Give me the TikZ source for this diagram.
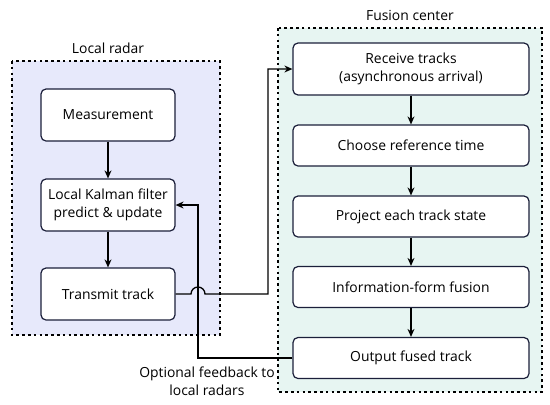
\documentclass[tikz,border=0pt]{standalone}
\usepackage{fontspec}
\setmainfont{Open Sans}
\usetikzlibrary{arrows.meta}
\definecolor{lrfill}{HTML}{E7E9FB}
\definecolor{fcfill}{HTML}{E7F5F2}
\definecolor{boxline}{HTML}{1B1F3A}
\begin{document}
\begin{tikzpicture}[x=1pt,y=-1pt,
  panel/.style={draw=black,line width=1.1pt,dash pattern=on 2.6pt off 3.2pt},
  stepbox/.style={draw=boxline,fill=white,line width=1.2pt,rounded corners=5pt,align=center,font=\fontsize{13.9}{17.5}\selectfont,inner sep=0pt},
  conn/.style={draw=black,line width=1.3pt,-{Stealth[length=8pt,width=7pt]}},
  lbl/.style={font=\fontsize{13.9}{17.5}\selectfont,align=center}]
\useasboundingbox (0,0) rectangle (550,405);
% panels
\path[panel,fill=lrfill] (12,61) rectangle (220,335);
\path[panel,fill=fcfill] (278,28) rectangle (542,392);
\node[lbl] (lrlab) at (108,48) {Local radar};
\node[lbl] (fclab) at (410,15) {Fusion center};
% local boxes
\node[stepbox,minimum width=134pt,minimum height=52pt] (meas) at (108,115) {Measurement};
\node[stepbox,minimum width=134pt,minimum height=52pt] (kal) at (108,205) {Local Kalman filter\\predict \& update};
\node[stepbox,minimum width=134pt,minimum height=52pt] (trans) at (108,294) {Transmit track};
% fusion boxes
\node[stepbox,minimum width=236pt,minimum height=52pt] (recv) at (411,69) {Receive tracks\\(asynchronous arrival)};
\node[stepbox,minimum width=236pt,minimum height=41pt] (choose) at (411,145.5) {Choose reference time};
\node[stepbox,minimum width=236pt,minimum height=41pt] (proj) at (411,216.5) {Project each track state};
\node[stepbox,minimum width=236pt,minimum height=41pt] (info) at (411,287) {Information-form fusion};
\node[stepbox,minimum width=236pt,minimum height=41pt] (out) at (411,358) {Output fused track};
% flow arrows
\draw[conn] (meas) -- (kal);
\draw[conn] (kal) -- (trans);
\draw[conn] (recv) -- (choose);
\draw[conn] (choose) -- (proj);
\draw[conn] (proj) -- (info);
\draw[conn] (info) -- (out);
% feedback
\coordinate (fb) at (198,358);
\draw[conn] (out.west) -- (fb) |- (kal.east);
% transmit to fusion with hop
\coordinate (hopa) at (191,294);
\coordinate (turn) at (268,294);
\draw[conn] (trans.east) -- (hopa) arc[start angle=-180,end angle=0,radius=7] -- (turn) |- (recv.west);
\node[lbl] (fblab) at (207,381) {Optional feedback to\\local radars};
\end{tikzpicture}
\end{document}
